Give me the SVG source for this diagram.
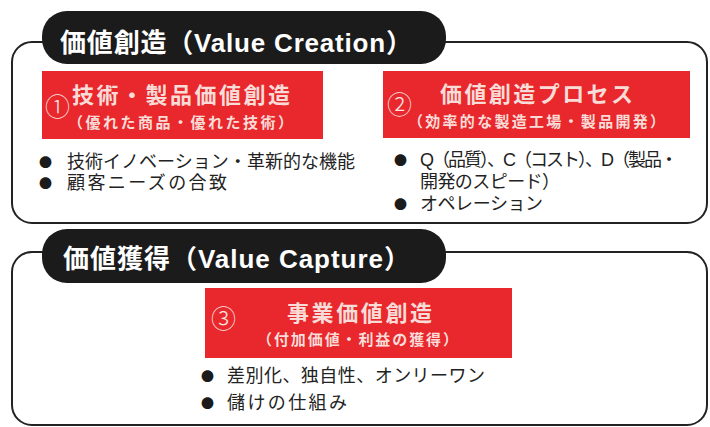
<svg xmlns="http://www.w3.org/2000/svg" width="710" height="427" viewBox="0 0 710 427">
  <style>
    .frame { fill: #ffffff; stroke: #222222; stroke-width: 2; }
    .tab { fill: #1b1b1b; }
    .tabtxt { font-family: "Liberation Sans", "Noto Sans CJK JP", sans-serif; font-weight: 700; font-size: 26px; fill: #ffffff; }
    .red { fill: #e8282c; }
    .rtitle { font-family: "Noto Sans CJK JP", sans-serif; font-weight: 700; font-size: 22px; fill: #f9dcd8; }
    .rsub { font-family: "Noto Sans CJK JP", sans-serif; font-weight: 700; font-size: 15px; fill: #f9dcd8; }
    .num { font-family: "Noto Sans CJK JP", "DejaVu Sans", sans-serif; font-weight: 300; font-size: 25px; fill: #fbe4e2; }
    .item { font-family: "Liberation Sans", "Noto Sans CJK JP", sans-serif; font-size: 18px; fill: #222222; }
    .dot { font-family: "Noto Sans CJK JP", "DejaVu Sans", sans-serif; font-size: 13px; fill: #1b1b1b; }
  </style>
  <rect width="710" height="427" fill="#ffffff"/>

  <g id="section-creation">
    <rect class="frame" x="12" y="42" width="695" height="181" rx="20" ry="20"/>
    <rect class="tab" x="42" y="11" width="404" height="53" rx="25" ry="25"/>
    <text class="tabtxt" x="60" y="52" textLength="352">価値創造（Value Creation）</text>
  </g>

  <g id="node1">
    <rect class="red" x="42" y="71" width="281" height="68"/>
    <text class="num" x="45" y="116">①</text>
    <text class="rtitle" x="72" y="103" textLength="218">技術・製品価値創造</text>
    <text class="rsub" x="68" y="128" textLength="225">（優れた商品・優れた技術）</text>
    <text class="dot" x="39" y="167">●</text>
    <text class="dot" x="39" y="188">●</text>
    <text class="item" x="67" y="168" textLength="288">技術イノベーション・革新的な機能</text>
    <text class="item" x="67" y="189" textLength="160">顧客ニーズの合致</text>
  </g>

  <g id="node2">
    <rect class="red" x="383" y="71" width="307" height="67"/>
    <text class="num" x="387" y="114">②</text>
    <text class="rtitle" x="440" y="102" textLength="193">価値創造プロセス</text>
    <text class="rsub" x="408" y="127" textLength="257">（効率的な製造工場・製品開発）</text>
    <text class="dot" x="394" y="165">●</text>
    <text class="dot" x="394" y="209">●</text>
    <text class="item" x="420" y="166" textLength="258">Q（品質）、C（コスト）、D（製品・</text>
    <text class="item" x="420" y="188" textLength="140">開発のスピード）</text>
    <text class="item" x="420" y="210" textLength="123">オペレーション</text>
  </g>

  <g id="section-capture">
    <rect class="frame" x="12" y="252" width="695" height="173" rx="20" ry="20"/>
    <rect class="tab" x="42" y="229" width="404" height="54" rx="25" ry="25"/>
    <text class="tabtxt" x="63" y="268" textLength="347">価値獲得（Value Capture）</text>
  </g>

  <g id="node3">
    <rect class="red" x="205" y="288" width="307" height="70"/>
    <text class="num" x="211" y="328">③</text>
    <text class="rtitle" x="287" y="321" textLength="145">事業価値創造</text>
    <text class="rsub" x="257" y="345" textLength="201">（付加価値・利益の獲得）</text>
    <text class="dot" x="201" y="381">●</text>
    <text class="dot" x="201" y="408">●</text>
    <text class="item" x="227" y="382" textLength="258">差別化、独自性、オンリーワン</text>
    <text class="item" x="227" y="409" textLength="120">儲けの仕組み</text>
  </g>
</svg>
